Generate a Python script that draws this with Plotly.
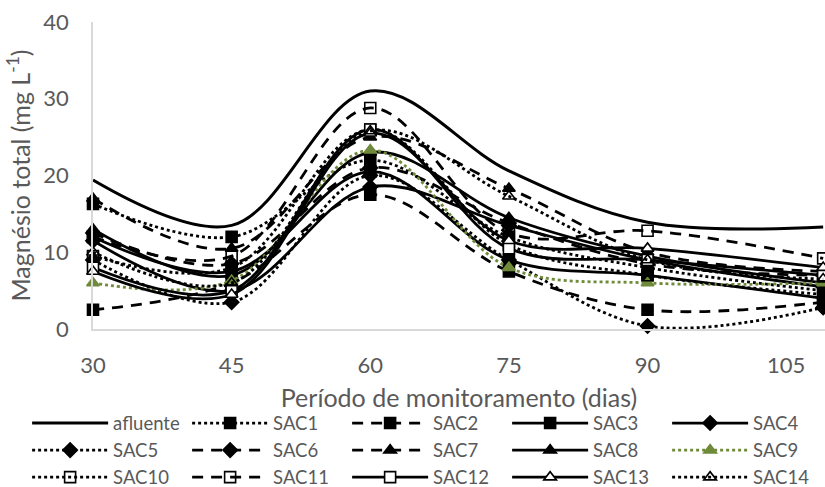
import plotly.graph_objects as go

# Sampling days and total magnesium (mg/L) per system
dias = [30, 45, 60, 75, 90, 109]

afluente = [19.4, 13.5, 31.0, 20.6, 13.9, 13.3]
sac1 = [16.3, 12.0, 22.0, 12.0, 8.0, 5.0]
sac2 = [2.5, 6.0, 17.5, 7.5, 2.5, 3.5]
sac3 = [12.0, 7.5, 20.5, 9.0, 7.0, 4.0]
sac4 = [11.5, 5.0, 18.5, 13.5, 9.0, 5.5]
sac5 = [9.0, 3.5, 20.0, 9.0, 0.4, 2.8]
sac6 = [12.5, 8.5, 21.0, 13.8, 8.5, 7.0]
sac7 = [17.0, 10.5, 25.0, 18.3, 10.0, 7.5]
sac8 = [13.0, 7.0, 23.0, 14.5, 9.5, 6.0]
sac9 = [6.0, 6.3, 23.3, 8.0, 6.0, 6.0]
sac10 = [9.5, 8.0, 26.0, 11.0, 7.0, 4.5]
sac11 = [12.0, 9.5, 28.8, 12.5, 12.8, 9.2]
sac12 = [8.0, 5.0, 26.0, 10.5, 9.0, 7.0]
sac13 = [7.5, 4.5, 25.5, 11.5, 10.5, 8.0]
sac14 = [10.0, 6.0, 25.8, 17.3, 9.0, 6.5]

BLACK = "#000000"
GREEN = "#6f8a3a"
GREY = "#595959"
DASH = "11px,8px"

series = [
    ("afluente", afluente, "solid", None, BLACK, BLACK, BLACK),
    ("SAC1", sac1, "dot", "square", BLACK, BLACK, BLACK),
    ("SAC2", sac2, DASH, "square", BLACK, BLACK, BLACK),
    ("SAC3", sac3, "solid", "square", BLACK, BLACK, BLACK),
    ("SAC4", sac4, "solid", "diamond", BLACK, BLACK, BLACK),
    ("SAC5", sac5, "dot", "diamond", BLACK, BLACK, BLACK),
    ("SAC6", sac6, DASH, "diamond", BLACK, BLACK, BLACK),
    ("SAC7", sac7, DASH, "triangle-up", BLACK, BLACK, BLACK),
    ("SAC8", sac8, "solid", "triangle-up", BLACK, BLACK, BLACK),
    ("SAC9", sac9, "dot", "triangle-up", GREEN, GREEN, GREEN),
    ("SAC10", sac10, "dot", "square-open", BLACK, BLACK, BLACK),
    ("SAC11", sac11, DASH, "square-open", BLACK, BLACK, BLACK),
    ("SAC12", sac12, "solid", "square", BLACK, "white", BLACK),
    ("SAC13", sac13, "solid", "triangle-up", BLACK, "white", BLACK),
    ("SAC14", sac14, "dot", "triangle-up-open", BLACK, BLACK, BLACK),
]

fig = go.Figure()
for name, vals, dash, symbol, lcolor, mfill, mline in series:
    if symbol is None:
        fig.add_trace(go.Scatter(
            x=dias, y=vals, name=name, mode="lines",
            line=dict(color=lcolor, width=3, dash=dash, shape="spline", smoothing=1.0),
        ))
    else:
        fig.add_trace(go.Scatter(
            x=dias, y=vals, name=name, mode="lines+markers", cliponaxis=False,
            line=dict(color=lcolor, width=2.8, dash=dash, shape="spline", smoothing=1.0),
            marker=dict(symbol=symbol, size=11, color=mfill,
                        line=dict(color=mline, width=1.6)),
        ))

fig.update_layout(
    width=825, height=487,
    margin=dict(l=93, r=0, t=22, b=158, autoexpand=False),
    paper_bgcolor="white", plot_bgcolor="white",
    font=dict(family="Lato, 'Open Sans', sans-serif", color=GREY),
    showlegend=True,
    legend=dict(
        orientation="h", x=-0.09, xanchor="left", y=-0.246, yanchor="top",
        entrywidth=69, entrywidthmode="pixels", itemwidth=76,
        font=dict(size=18.5, color=GREY), traceorder="normal",
        bgcolor="rgba(0,0,0,0)",
    ),
    xaxis=dict(
        range=[30, 109.2], tickmode="array", tickvals=[30, 45, 60, 75, 90, 105],
        showgrid=False, zeroline=False, showline=True, linecolor="#d9d9d9", linewidth=1.5,
        ticks="", ticklabelstandoff=16, tickfont=dict(size=22, color=GREY),
        title=dict(text="Período de monitoramento (dias)", font=dict(size=25, color=GREY), standoff=12),
    ),
    yaxis=dict(
        range=[0, 40], tickmode="array", tickvals=[0, 10, 20, 30, 40],
        showgrid=False, zeroline=False, showline=True, linecolor="#d9d9d9", linewidth=1.5,
        ticks="", ticklabelstandoff=18, tickfont=dict(size=22, color=GREY),
        title=dict(text="Magnésio total (mg L<sup>-1</sup>)", font=dict(size=25, color=GREY), standoff=6),
    ),
)

fig.write_html("out.html")
